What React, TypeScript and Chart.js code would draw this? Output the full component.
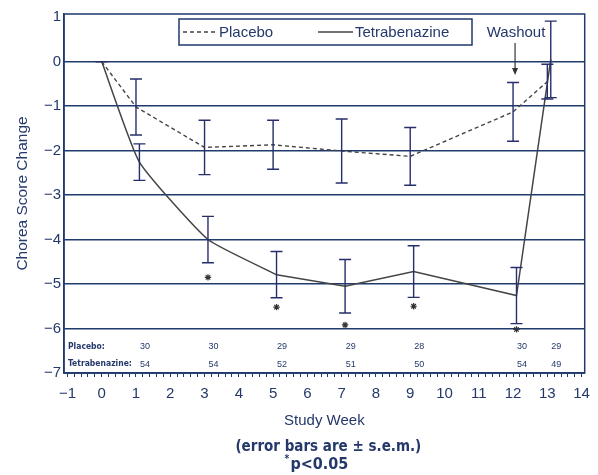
import React, { useEffect, useRef } from "react";
import { Chart, registerables } from "chart.js";
Chart.register(...registerables);

// ---- data ----
const weeks = [0, 1, 3, 5, 7, 9, 12, 13];
const placeboMean = [0, -1.02, -1.93, -1.87, -2.01, -2.13, -1.13, -0.45];
const placeboSem = [0, 0.63, 0.61, 0.55, 0.72, 0.65, 0.66, 0.39];
const tetraMean = [0, -2.26, -4.0, -4.79, -5.05, -4.72, -5.26, 0.05];
const tetraSem = [0, 0.41, 0.52, 0.52, 0.6, 0.58, 0.63, 0.86];
const tetraDodge = 0.1; // tetrabenazine marks drawn slightly right of placebo
const starWeeks = [3, 5, 7, 9, 12];
const starValues = [-4.85, -5.52, -5.92, -5.5, -6.02];
const nWeeks = [1, 3, 5, 7, 9, 12, 13];
const placeboN = ["30", "30", "29", "29", "28", "30", "29"];
const tetraN = ["54", "54", "52", "51", "50", "54", "49"];
const yTickValues = [1, 0, -1, -2, -3, -4, -5, -6, -7];
const xLabelValues = [-1, 0, 1, 2, 3, 4, 5, 6, 7, 8, 9, 10, 11, 12, 13, 14];
const seriesNames = ["Placebo", "Tetrabenazine"];
const washoutWeek = 12;

const NAVY = "#24386a";
const GRID = "#1f3a6d";
const LINE = "#454545";
const BAR = "#262f6c";
const FONT = '"Liberation Sans", Arial, Helvetica, sans-serif';
const NARROW = '"Liberation Sans Narrow", "Arial Narrow", "DejaVu Sans Condensed", sans-serif';

const fmt = (v: number) => (v < 0 ? "\u2212" + Math.abs(v) : String(v));

const overlay = {
  id: "overlay",
  afterDatasetsDraw(chart: any) {
    const { ctx, chartArea: a, scales } = chart;
    const x = scales.x;
    const y = scales.y;
    ctx.save();

    // frame
    ctx.strokeStyle = GRID;
    ctx.lineWidth = 1.5;
    ctx.strokeRect(a.left, a.top, a.right - a.left, a.bottom - a.top);

    // error bars
    ctx.strokeStyle = BAR;
    ctx.lineWidth = 1.4;
    const bar = (w: number, m: number, s: number) => {
      const px = x.getPixelForValue(w);
      const t = y.getPixelForValue(m + s);
      const b = y.getPixelForValue(m - s);
      ctx.beginPath();
      ctx.moveTo(px, t);
      ctx.lineTo(px, b);
      ctx.moveTo(px - 6, t);
      ctx.lineTo(px + 6, t);
      ctx.moveTo(px - 6, b);
      ctx.lineTo(px + 6, b);
      ctx.stroke();
    };
    weeks.forEach((w, i) => {
      bar(w, placeboMean[i], placeboSem[i]);
      bar(i === 0 ? w : w + tetraDodge, tetraMean[i], tetraSem[i]);
    });

    // N table
    ctx.fillStyle = NAVY;
    ctx.textBaseline = "middle";
    ctx.textAlign = "left";
    ctx.font = "bold 8.5px " + NARROW;
    const rowP = y.getPixelForValue(-6.4);
    const rowT = y.getPixelForValue(-6.8);
    ctx.fillText(seriesNames[0] + ":", a.left + 4, rowP);
    ctx.fillText(seriesNames[1] + ":", a.left + 4, rowT);
    ctx.textAlign = "center";
    ctx.font = "9px " + FONT;
    nWeeks.forEach((w, i) => {
      const px = x.getPixelForValue(w) + 9;
      ctx.fillText(placeboN[i], px, rowP);
      ctx.fillText(tetraN[i], px, rowT);
    });

    // legend box
    const bx = a.left + 115;
    const by = a.top + 5;
    ctx.strokeStyle = GRID;
    ctx.lineWidth = 1.5;
    ctx.fillStyle = "#ffffff";
    ctx.fillRect(bx, by, 293, 26);
    ctx.strokeRect(bx, by, 293, 26);
    const ly = by + 13;
    ctx.strokeStyle = LINE;
    ctx.lineWidth = 1.3;
    ctx.setLineDash([4, 3]);
    ctx.beginPath();
    ctx.moveTo(bx + 4, ly);
    ctx.lineTo(bx + 39, ly);
    ctx.stroke();
    ctx.setLineDash([]);
    ctx.beginPath();
    ctx.moveTo(bx + 139, ly);
    ctx.lineTo(bx + 174, ly);
    ctx.stroke();
    ctx.fillStyle = NAVY;
    ctx.font = "15px " + FONT;
    ctx.textAlign = "left";
    ctx.fillText(seriesNames[0], bx + 40, ly + 1);
    ctx.fillText(seriesNames[1], bx + 176, ly + 1);

    // washout
    const wx = x.getPixelForValue(washoutWeek) + 2;
    ctx.textAlign = "center";
    ctx.fillText("Washout", wx + 1, ly + 1);
    const aTop = y.getPixelForValue(0.42);
    const aTip = y.getPixelForValue(-0.3);
    ctx.strokeStyle = "#333";
    ctx.lineWidth = 1.2;
    ctx.beginPath();
    ctx.moveTo(wx, aTop);
    ctx.lineTo(wx, aTip - 3);
    ctx.stroke();
    ctx.fillStyle = "#333";
    ctx.beginPath();
    ctx.moveTo(wx - 3, aTip - 7);
    ctx.lineTo(wx + 3, aTip - 7);
    ctx.lineTo(wx, aTip);
    ctx.closePath();
    ctx.fill();

    // notes below
    const cx = (a.left + a.right) / 2;
    ctx.fillStyle = NAVY;
    ctx.font = "bold 15px " + NARROW;
    ctx.textAlign = "center";
    ctx.fillText("(error bars are \u00b1 s.e.m.)", cx + 4, chart.height - 28);
    ctx.font = "bold 16px " + NARROW;
    const t2 = "p<0.05";
    const w2 = ctx.measureText(t2).width;
    ctx.textAlign = "left";
    ctx.fillText(t2, cx - 5 - w2 / 2, chart.height - 10);
    ctx.font = "bold 10px " + NARROW;
    ctx.fillText("*", cx - 5 - w2 / 2 - 6, chart.height - 16);

    ctx.restore();
  },
};

export default function App() {
  const ref = useRef<HTMLCanvasElement>(null);
  useEffect(() => {
    if (!ref.current) return;
    const tx = (i: number) => (i === 0 ? weeks[i] : weeks[i] + tetraDodge);
    const placeboPts = weeks.map((w, i) => ({ x: w, y: placeboMean[i] }));
    const tetraPts = weeks.map((_, i) => ({ x: tx(i), y: tetraMean[i] }));
    const chart = new Chart(ref.current, {
      type: "line",
      data: {
        datasets: [
          {
            label: seriesNames[0],
            data: placeboPts,
            borderColor: LINE,
            borderWidth: 1.4,
            borderDash: [4, 3],
            pointRadius: 0,
            tension: 0,
          },
          {
            label: seriesNames[1],
            data: tetraPts.slice(0, 4),
            borderColor: LINE,
            borderWidth: 1.5,
            pointRadius: 0,
            tension: 0.15,
          },
          {
            label: seriesNames[1] + " (cont.)",
            data: tetraPts.slice(3),
            borderColor: LINE,
            borderWidth: 1.5,
            pointRadius: 0,
            tension: 0,
          },
          {
            type: "scatter",
            label: "p<0.05",
            data: starWeeks.map((w, i) => ({ x: w + tetraDodge, y: starValues[i] })),
            pointStyle: "star",
            pointRadius: 3.2,
            borderColor: "#333",
            borderWidth: 1.2,
            backgroundColor: "#333",
            showLine: false,
          } as any,
        ],
      },
      options: {
        responsive: false,
        animation: false,
        layout: { padding: { left: 0, right: 7, top: 14, bottom: 0 } },
        plugins: { legend: { display: false }, tooltip: { enabled: false }, title: { display: false } },
        scales: {
          x: {
            type: "linear",
            min: -1.1,
            max: 14.09,
            afterFit: (s: any) => {
              s.height = 102;
            },
            afterBuildTicks: (s: any) => {
              const t: any[] = [];
              for (let k = -5; k <= 70; k++) t.push({ value: k / 5 });
              s.ticks = t;
            },
            ticks: {
              autoSkip: false,
              maxRotation: 0,
              padding: 8,
              color: NAVY,
              font: { family: FONT, size: 15 },
              callback: (v: any) => {
                const n = Number(v);
                const r = Math.round(n);
                return Math.abs(n - r) < 1e-6 && xLabelValues.includes(r) ? fmt(r) : "";
              },
            },
            grid: { drawOnChartArea: false, drawTicks: true, tickLength: 4, color: GRID, lineWidth: 1 },
            border: { display: true, color: GRID, width: 1.5 },
            title: {
              display: true,
              text: "Study Week",
              color: NAVY,
              font: { family: FONT, size: 15 },
              padding: { top: 0, bottom: 45 },
            },
          },
          y: {
            type: "linear",
            min: -7,
            max: 1.07,
            afterFit: (s: any) => {
              s.width = 64;
            },
            afterBuildTicks: (s: any) => {
              s.ticks = yTickValues.map((v) => ({ value: v }));
            },
            ticks: {
              padding: 3,
              color: NAVY,
              font: { family: FONT, size: 15 },
              callback: (v: any) => fmt(Number(v)),
            },
            grid: {
              drawTicks: false,
              color: (c: any) => (c.tick && c.tick.value === 1 ? "rgba(0,0,0,0)" : GRID),
              lineWidth: 1.5,
            },
            border: { display: true, color: GRID, width: 1.5 },
            title: {
              display: true,
              text: "Chorea Score Change",
              color: NAVY,
              font: { family: FONT, size: 15.5 },
              padding: { top: 13, bottom: 0 },
            },
          },
        },
      },
      plugins: [overlay],
    } as any);
    return () => chart.destroy();
  }, []);
  return (
    <div style={{ position: "fixed", left: 0, top: 0, width: 598, height: 475, background: "#fff" }}>
      <canvas ref={ref} width={598} height={475} style={{ display: "block" }} />
    </div>
  );
}
